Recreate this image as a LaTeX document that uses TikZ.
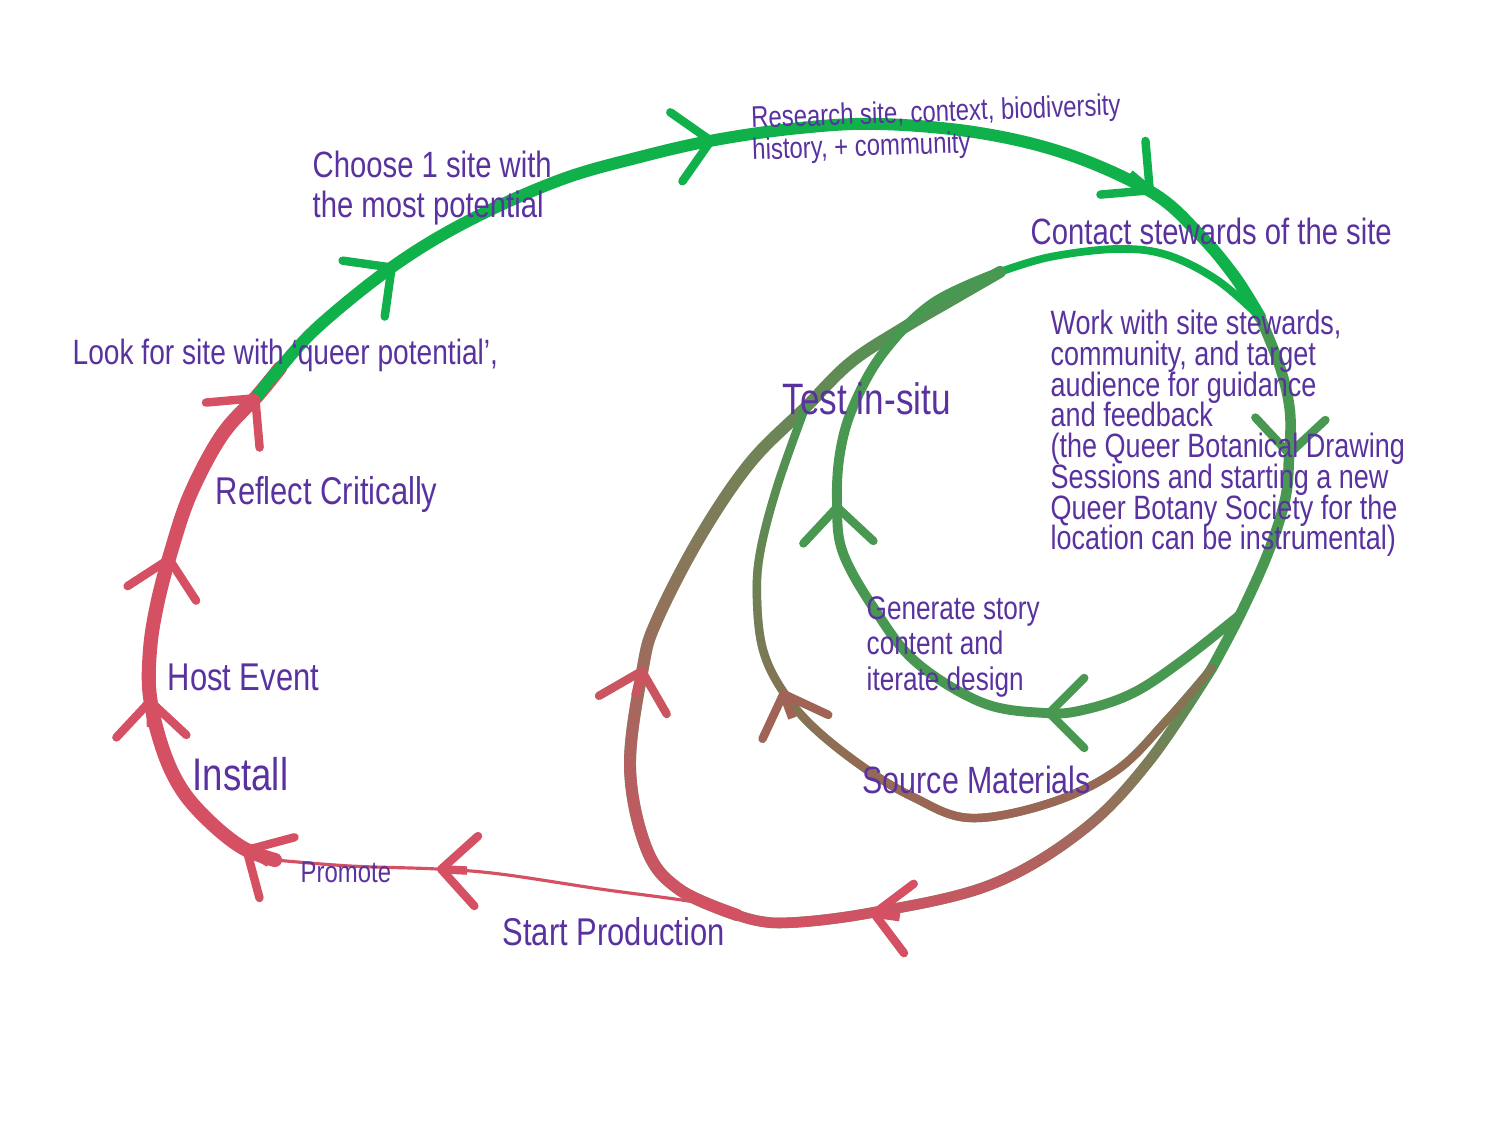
\documentclass[tikz,border=0pt]{standalone}
\usepackage{fontspec}
\newfontfamily\handfont{Liberation Sans}[FakeStretch=0.8]
\usepackage{tikz}
\usetikzlibrary{calc,arrows.meta,fadings}
\definecolor{ink}{RGB}{90,50,160}
\definecolor{leaf}{RGB}{16,176,74}
\definecolor{moss}{RGB}{72,152,82}
\definecolor{rose}{RGB}{214,80,100}
\definecolor{bark}{RGB}{160,100,86}
\tikzfading[name=fade up, top color=transparent!100, bottom color=transparent!0]

\begin{document}
\begin{tikzpicture}[x=0.01cm,y=0.01cm,
      lbl/.style={text=ink,font=\handfont\fontsize{11}{12}\selectfont,anchor=base west,inner sep=0pt,align=left},
      note/.style={lbl,font={\handfont\fontsize{9.6}{8.75}\selectfont\lineskiplimit-10pt\relax}},
      strand/.style={line width=#1,line cap=round,line join=round},
      chev/.style={-{Straight Barb[length=3.5mm,width=7mm,line width=2.4pt,round]},line width=2.4pt}]
    \path[fill=white,use as bounding box] (0,0) rectangle (1500,-1125);

    % junctions of the loops
    \coordinate (prod)   at (737,-915);
    \coordinate (prom)   at (275,-860);
    \coordinate (turn)   at (280,-368);
    \coordinate (merge)  at (1260,-317);
    \coordinate (split1) at (1240,-615);
    \coordinate (split2) at (1212,-668);
    \coordinate (fan)    at (1000,-272);
    \coordinate (join)   at (805,-408);
    % arrow points
    \coordinate (a1)  at (437,-869);
    \coordinate (a2)  at (243,-848);
    \coordinate (a3)  at (150,-697);
    \coordinate (a4)  at (170,-555);
    \coordinate (a5)  at (258,-395);
    \coordinate (a6)  at (395,-265);
    \coordinate (a7)  at (715,-140);
    \coordinate (a8)  at (1153,-193);
    \coordinate (a9)  at (1289,-458);
    \coordinate (a10) at (1045,-713);
    \coordinate (a11) at (837,-503);
    \coordinate (a12) at (782,-690);
    \coordinate (a13) at (643,-667);
    \coordinate (a14) at (870,-913);

    % outer loop
    \draw[strand=0.9pt,rose] plot[smooth,tension=0.6] coordinates {(prod) (700,-903) (600,-889) (500,-874) (a1) (350,-866) (prom)};
    \draw[strand=4pt,rose] plot[smooth,tension=0.6] coordinates {(prom) (a2) (210,-822) (182,-790) (163,-750) (a3) (150,-650) (157,-605) (a4) (190,-495) (222,-435) (a5) (turn)};
    \draw[strand=3.4pt,leaf] plot[smooth,tension=0.6] coordinates {(a5) (turn) (320,-325) (a6) (470,-220) (560,-180) (640,-157) (a7) (800,-128) (880,-124) (980,-133) (1070,-155) (a8) (1200,-235) (1235,-277) (merge)};
    \draw[strand=3pt,moss] plot[smooth,tension=0.6] coordinates {(merge) (1280,-367) (1290,-412) (a9) (1285,-500) (1268,-553) (split1) (split2)};
    \draw[strand=2.2pt,leaf] plot[smooth,tension=0.6] coordinates {(fan) (1050,-257) (1117,-249) (1167,-255) (1217,-280) (merge)};

    % bottom and left strands, green fading into red
    \def\outerbottom{plot[smooth,tension=0.6] coordinates {(split2) (1150,-760) (1083,-830) (990,-885) (a14) (780,-923) (prod)}}
    \def\outerleft{plot[smooth,tension=0.6] coordinates {(prod) (680,-890) (647,-850) (630,-767) (a13) (657,-620) (700,-537) (750,-463) (join) (850,-363) (900,-330) (960,-295) (fan)}}
    \def\sourceloop{plot[smooth,tension=0.6] coordinates {(split2) (1167,-720) (1117,-770) (1050,-803) (970,-818) (913,-797) (863,-767) (813,-727) (a12) (763,-650) (757,-600) (760,-553) (777,-487) (join)}}
    \draw[strand=3pt,moss] \outerbottom;
    \draw[strand=3pt,rose,path fading=fade up] \outerbottom;
    \draw[strand=3.4pt,moss] \outerleft;
    \draw[strand=3.4pt,rose,path fading=fade up] \outerleft;
    \draw[strand=2.4pt,moss] \sourceloop;
    \draw[strand=2.4pt,bark,path fading=fade up] \sourceloop;

    % inner loop
    \draw[strand=2.8pt,moss] plot[smooth,tension=0.6] coordinates {(split1) (1183,-660) (1133,-693) (1083,-710) (a10) (983,-703) (917,-663) (877,-613) (843,-553) (a11) (840,-453) (853,-407) (883,-353) (933,-303) (fan)};

    % arrow heads
    \draw[chev,rose] ([shift={(-3:30)}]a1) -- (a1);
    \draw[chev,rose] ([shift={(-30:30)}]a2) -- (a2);
    \draw[chev,rose] ([shift={(-88:30)}]a3) -- (a3);
    \draw[chev,rose] ([shift={(-102:30)}]a4) -- (a4);
    \draw[chev,rose] ([shift={(-130:30)}]a5) -- (a5);
    \draw[chev,leaf] ([shift={(-143:30)}]a6) -- (a6);
    \draw[chev,leaf] ([shift={(-170:30)}]a7) -- (a7);
    \draw[chev,leaf] ([shift={(140:30)}]a8) -- (a8);
    \draw[chev,moss] ([shift={(88:30)}]a9) -- (a9);
    \draw[chev,moss] ([shift={(0:30)}]a10) -- (a10);
    \draw[chev,moss] ([shift={(-88:30)}]a11) -- (a11);
    \draw[chev,bark] ([shift={(-70:30)}]a12) -- (a12);
    \draw[chev,rose!80!bark] ([shift={(-105:30)}]a13) -- (a13);
    \draw[chev,rose] ([shift={(-8:30)}]a14) -- (a14);

    % labels (multi-line ones sit on their last line)
    \node[lbl,font=\handfont\fontsize{8.5}{9.1}\selectfont,rotate=2] (research) at (752,-160) {Research site, context, biodiversity\\history, + community};
    \node[lbl,font=\handfont\fontsize{10.4}{11.4}\selectfont] (choose) at (312,-218) {Choose 1 site with\\the most potential};
    \node[lbl,font=\handfont\fontsize{10}{11}\selectfont] (look) at (72,-365) {Look for site with ‘queer potential’,};
    \node[lbl,font=\handfont\fontsize{10.4}{12}\selectfont] (contact) at (1030,-245) {Contact stewards of the site};
    \node[note] (work) at (1050,-550) {Work with site stewards,\\community, and target\\audience for guidance\\and feedback\\(the Queer Botanical Drawing\\Sessions and starting a new\\Queer Botany Society for the\\location can be instrumental)};
    \node[lbl,font=\handfont\fontsize{12.5}{13}\selectfont] (test) at (782,-415) {Test in-situ};
    \node[lbl] (reflect) at (215,-505) {Reflect Critically};
    \node[lbl,font=\handfont\fontsize{9.3}{10}\selectfont] (generate) at (866,-690) {Generate story\\content and\\iterate design};
    \node[lbl] (host) at (167,-690) {Host Event};
    \node[lbl,font=\handfont\fontsize{13}{14}\selectfont] (install) at (192,-790) {Install};
    \node[lbl,font=\handfont\fontsize{10.8}{12}\selectfont] (source) at (862,-793) {Source Materials};
    \node[lbl,font=\handfont\fontsize{8.5}{10}\selectfont] (promote) at (300,-882) {Promote};
    \node[lbl] (start) at (502,-945) {Start Production};
  \end{tikzpicture}
\end{document}
